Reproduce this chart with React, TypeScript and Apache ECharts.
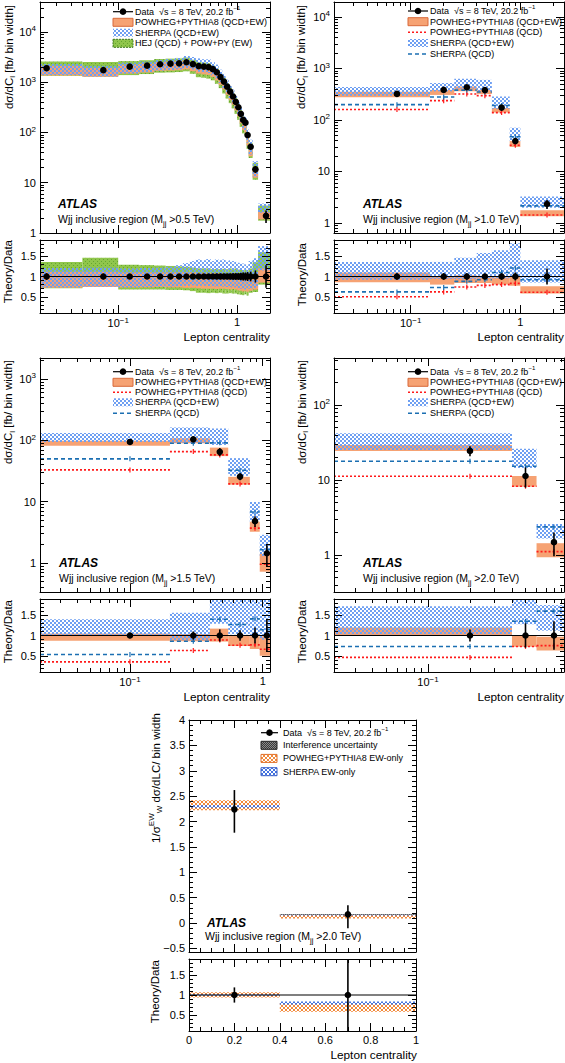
import React, { useEffect, useRef } from "react";
import * as echarts from "echarts";

const FONT = "'Liberation Sans', Arial, Helvetica, sans-serif";

/* ---------- Panel 1: Wjj inclusive, Mjj > 0.5 TeV ---------- */
const p1Edges = [0, 0.05, 0.1, 0.15, 0.2, 0.25, 0.3, 0.35, 0.4, 0.45, 0.5, 0.55, 0.6, 0.65, 0.7, 0.75, 0.8, 0.85, 0.9, 0.95, 1.0, 1.05, 1.1, 1.15, 1.2, 1.25, 1.35, 1.5, 2.0];
const p1Data = [1900, 1740, 2040, 2140, 2280, 2340, 2380, 2500, 2300, 2100, 2050, 2000, 1820, 1580, 1270, 1030, 815, 650, 520, 405, 318, 235, 178, 157, 89, 52, 18.5, 2.2];
const p1Err = [0.08, 0.07, 0.06, 0.06, 0.06, 0.06, 0.06, 0.06, 0.06, 0.06, 0.06, 0.06, 0.06, 0.07, 0.07, 0.07, 0.07, 0.07, 0.08, 0.08, 0.08, 0.09, 0.1, 0.1, 0.11, 0.12, 0.15, 0.28];
const p1PowLo = [0.72, 0.74, 0.73, 0.73, 0.74, 0.73, 0.73, 0.72, 0.72, 0.71, 0.7, 0.7, 0.7, 0.69, 0.7, 0.7, 0.69, 0.68, 0.69, 0.68, 0.66, 0.65, 0.63, 0.64, 0.62, 0.65, 0.68, 0.85];
const p1PowHi = [1.12, 1.12, 1.1, 1.1, 1.1, 1.1, 1.1, 1.1, 1.1, 1.09, 1.09, 1.08, 1.08, 1.08, 1.08, 1.07, 1.07, 1.07, 1.08, 1.07, 1.06, 1.06, 1.05, 1.05, 1.04, 1.05, 1.05, 1.2];
const p1SheLo = [0.73, 0.75, 0.73, 0.74, 0.75, 0.75, 0.76, 0.77, 0.78, 0.77, 0.77, 0.76, 0.76, 0.75, 0.76, 0.75, 0.74, 0.74, 0.73, 0.73, 0.71, 0.7, 0.7, 0.68, 0.7, 0.7, 0.72, 1.15];
const p1SheHi = [1.21, 1.22, 1.2, 1.21, 1.22, 1.24, 1.28, 1.33, 1.38, 1.42, 1.4, 1.43, 1.38, 1.42, 1.4, 1.42, 1.38, 1.4, 1.38, 1.36, 1.34, 1.33, 1.32, 1.3, 1.3, 1.38, 1.45, 1.75];
const p1HejLo = [0.71, 0.75, 0.68, 0.68, 0.68, 0.67, 0.67, 0.66, 0.64, 0.6, 0.6, 0.59, 0.6, 0.59, 0.6, 0.58, 0.58, 0.59, 0.58, 0.58, 0.56, 0.55, 0.54, 0.56, 0.53, 0.6, 0.62, 0.8];
const p1HejHi = [1.36, 1.46, 1.29, 1.28, 1.27, 1.26, 1.25, 1.24, 1.22, 1.2, 1.2, 1.2, 1.18, 1.19, 1.18, 1.19, 1.18, 1.2, 1.18, 1.2, 1.17, 1.18, 1.16, 1.17, 1.15, 1.2, 1.35, 1.6];

/* ---------- Panel 2: Mjj > 1.0 TeV ---------- */
const p2Edges = [0, 0.15, 0.25, 0.4, 0.55, 0.8, 1.0, 2.5];
const p2Data = [320, 383, 432, 380, 174, 39, 2.34];
const p2Err = [0.08, 0.08, 0.08, 0.07, 0.08, 0.1, 0.2];
const p2PowLo = [0.86, 0.8, 0.84, 0.84, 0.8, 0.77, 0.58];
const p2PowHi = [1.1, 1.0, 1.03, 1.0, 0.98, 1.0, 0.76];
const p2SheLo = [0.92, 0.94, 0.93, 0.95, 0.95, 1.0, 0.85];
const p2SheHi = [1.36, 1.36, 1.46, 1.58, 1.65, 1.82, 1.4];
const p2PowQcd = [0.5, 0.62, 0.74, 0.78, 0.8, 0.83, 0.61];
const p2SheQcd = [0.62, 0.73, 0.88, 0.92, 1.1, 1.21, 0.92];

/* ---------- Panel 3: Mjj > 1.5 TeV ---------- */
const p3Edges = [0, 0.2, 0.4, 0.55, 0.8, 0.95, 1.2];
const p3Data = [94, 104, 65, 25.6, 4.8, 1.44];
const p3Err = [0.07, 0.1, 0.15, 0.13, 0.2, 0.4];
const p3PowLo = [0.87, 0.86, 0.85, 0.74, 0.67, 0.5];
const p3PowHi = [1.05, 1.04, 1.17, 0.99, 0.98, 0.98];
const p3SheLo = [1.0, 0.88, 1.29, 1.03, 0.97, 0.9];
const p3SheHi = [1.4, 1.56, 2.4, 2.0, 2.05, 2.0];
const p3PowQcd = [0.35, 0.63, 0.89, 0.76, 0.77, 0.66];
const p3SheQcd = [0.53, 0.86, 1.4, 1.27, 1.41, 1.14];

/* ---------- Panel 4: Mjj > 2.0 TeV ---------- */
const p4Edges = [0, 0.4, 0.6, 1.0];
const p4Data = [24.4, 11.3, 1.48];
const p4Err = [0.15, 0.3, 0.35];
const p4PowLo = [1.0, 0.72, 0.63];
const p4PowHi = [1.2, 1.0, 0.97];
const p4SheLo = [1.03, 1.28, 1.12];
const p4SheHi = [1.72, 2.3, 1.75];
const p4PowQcd = [0.46, 0.73, 0.75];
const p4SheQcd = [0.73, 1.35, 1.6];

/* ---------- Panel 5: normalised EW-only, Mjj > 2.0 TeV ---------- */
const p5Edges = [0, 0.4, 1.0];
const p5Data = [2.24, 0.17];
const p5ErrUp = [0.38, 0.18];
const p5ErrDn = [0.46, 0.27];
const p5PowLo = [2.22, 0.09];
const p5PowHi = [2.42, 0.16];
const p5SheLo = [2.27, 0.15];
const p5SheHi = [2.32, 0.17];
const p5IntLo = [2.3, 0.165];
const p5IntHi = [2.3, 0.18];
const p5RatioErr = [0.19, 1.2];
const p5PowRLo = [0.94, 0.58];
const p5PowRHi = [1.07, 0.82];
const p5SheRLo = [0.98, 0.76];
const p5SheRHi = [1.02, 0.84];

/* ---------- tick labels ---------- */
const yLabels1 = [1, 10, 100, 1000, 10000];
const yLabels3 = [1, 10, 100, 1000];
const yLabels4 = [1, 10, 100];
const xLogLabels = [0.1, 1];
const xLogLabels4 = [0.1];
const ratioLabels = [0.5, 1, 1.5];
const linXLabels = [0, 0.2, 0.4, 0.6, 0.8, 1];
const linYLabels = [-0.5, 0, 0.5, 1, 1.5, 2, 2.5, 3, 3.5, 4];

/* ---------- colours ---------- */
const ORANGE = "#f6a273";
const ORANGE_EDGE = "#d8693a";
const RED = "#ff1a1a";
const BLUE_DASH = "#1b6fb2";

const mid = (e: number[], i: number) => (e[i] + e[i + 1]) / 2;
const centers = (e: number[]) => e.slice(0, -1).map((_, i) => mid(e, i));
const ones = (n: number) => new Array(n).fill(1);
const mul = (a: number[], b: number[]) => a.map((v, i) => v * b[i]);
const EMPTY = { type: "group", children: [] };

function clipRect(xa: number, ya: number, xb: number, yb: number, cs: any) {
  const l = Math.max(Math.min(xa, xb), cs.x);
  const r = Math.min(Math.max(xa, xb), cs.x + cs.width);
  const t = Math.max(Math.min(ya, yb), cs.y);
  const b = Math.min(Math.max(ya, yb), cs.y + cs.height);
  return r > l && b > t ? { x: l, y: t, width: r - l, height: b - t } : null;
}

function bandSeries(g: number, xmin: number, edges: number[], lo: number[], hi: number[], scale: number[] | null, fill: any) {
  return {
    type: "custom", xAxisIndex: g * 4, yAxisIndex: g * 4, silent: true, z: 2,
    data: lo.map((v, i) => [mid(edges, i), v * (scale ? scale[i] : 1)]),
    renderItem: (params: any, api: any) => {
      const i = params.dataIndex;
      const s = scale ? scale[i] : 1;
      const a = api.coord([Math.max(edges[i], xmin), lo[i] * s]);
      const b = api.coord([edges[i + 1], hi[i] * s]);
      const r = clipRect(a[0], a[1], b[0], b[1], params.coordSys);
      if (!r) return EMPTY;
      return { type: "rect", shape: r, style: { fill } };
    },
  };
}

function stepSeries(g: number, xmin: number, edges: number[], vals: number[], scale: number[] | null, color: string, dash: number[]) {
  return {
    type: "custom", xAxisIndex: g * 4, yAxisIndex: g * 4, silent: true, z: 3,
    data: vals.map((v, i) => [mid(edges, i), v * (scale ? scale[i] : 1)]),
    renderItem: (params: any, api: any) => {
      const i = params.dataIndex;
      const cs = params.coordSys;
      const v = vals[i] * (scale ? scale[i] : 1);
      const a = api.coord([Math.max(edges[i], xmin), v]);
      const b = api.coord([edges[i + 1], v]);
      const c = api.coord([mid(edges, i), v]);
      if (a[1] < cs.y || a[1] > cs.y + cs.height) return EMPTY;
      const x1 = Math.max(a[0], cs.x);
      const x2 = Math.min(b[0], cs.x + cs.width);
      return {
        type: "group",
        children: [
          { type: "line", shape: { x1, y1: a[1], x2, y2: a[1] }, style: { stroke: color, lineWidth: 1.6, lineDash: dash } },
          { type: "line", shape: { x1: c[0], y1: a[1] - 2.5, x2: c[0], y2: a[1] + 2.5 }, style: { stroke: color, lineWidth: 1.2 } },
        ],
      };
    },
  };
}

function pointSeries(g: number, logY: boolean, xs: number[], vals: number[], up: number[], dn: number[]) {
  return {
    type: "custom", xAxisIndex: g * 4, yAxisIndex: g * 4, silent: true, z: 5,
    data: vals.map((v, i) => [xs[i], v]),
    renderItem: (params: any, api: any) => {
      const i = params.dataIndex;
      const cs = params.coordSys;
      const c = api.coord([xs[i], vals[i]]);
      const top = api.coord([xs[i], vals[i] + up[i]])[1];
      const lowV = vals[i] - dn[i];
      const bot = logY && lowV <= 0 ? cs.y + cs.height : api.coord([xs[i], lowV])[1];
      const cl = (y: number) => Math.min(Math.max(y, cs.y), cs.y + cs.height);
      return {
        type: "group",
        children: [
          { type: "line", shape: { x1: c[0], y1: cl(top), x2: c[0], y2: cl(bot) }, style: { stroke: "#000", lineWidth: 1.6 } },
          { type: "circle", shape: { cx: c[0], cy: c[1], r: 3.3 }, style: { fill: "#000" } },
        ],
      };
    },
  };
}

function refLine(g: number, xAny: number) {
  return {
    type: "custom", xAxisIndex: g * 4, yAxisIndex: g * 4, silent: true, z: 4,
    data: [[xAny, 1]],
    renderItem: (params: any, api: any) => {
      const cs = params.coordSys;
      const y = api.coord([xAny, 1])[1];
      return { type: "line", shape: { x1: cs.x, y1: y, x2: cs.x + cs.width, y2: y }, style: { stroke: "#000", lineWidth: 1.2 } };
    },
  };
}

/* ---------- axes ---------- */
function logMajors(min: number, max: number) {
  const out: number[] = [];
  for (let e = -3; e <= 6; e++) { const v = Math.pow(10, e); if (v >= min * 0.9999 && v <= max * 1.0001) out.push(v); }
  return out;
}
function logMinors(min: number, max: number) {
  const out: number[] = [];
  for (let e = -3; e <= 6; e++) for (let m = 2; m <= 9; m++) { const v = +(m * Math.pow(10, e)).toPrecision(6); if (v >= min && v <= max) out.push(v); }
  return out;
}
function linTicks(min: number, max: number, step: number) {
  const out: number[] = [];
  for (let k = Math.ceil(min / step - 1e-9); k * step <= max + 1e-9; k++) out.push(+(k * step).toFixed(4));
  return out;
}

const logFmt = (v: number) => {
  const e = Math.round(Math.log10(v));
  if (e === 0) return "1";
  if (e === 1) return "10";
  return `{n|10}{s|${e < 0 ? "−" : ""}${Math.abs(e)}}`;
};
const linFmt = (v: number) => (v < 0 ? "−" + Math.abs(v) : String(v));

const AXIS_RICH = {
  n: { fontSize: 11, lineHeight: 14, fontFamily: FONT, color: "#000" },
  s: { fontSize: 8, lineHeight: 8, fontFamily: FONT, color: "#000", verticalAlign: "top" },
};

type Spec = { type: "log" | "value"; min: number; max: number; major: number[]; minor: number[]; labels: number[] | null; fmt: (v: number) => string };

function logSpec(min: number, max: number, labels: number[] | null): Spec {
  return { type: "log", min, max, major: logMajors(min, max), minor: logMinors(min, max), labels, fmt: logFmt };
}
function linSpec(min: number, max: number, step: number, mstep: number, labels: number[] | null): Spec {
  return { type: "value", min, max, major: linTicks(min, max, step), minor: linTicks(min, max, mstep), labels, fmt: linFmt };
}

function buildAxes(g: number, spec: Spec, dim: "x" | "y") {
  const positions = dim === "x" ? ["bottom", "top"] : ["left", "right"];
  const out: any[] = [];
  positions.forEach((pos, pi) => {
    [true, false].forEach((isMajor) => {
      const showLabel = isMajor && pi === 0 && !!spec.labels;
      const ax: any = {
        gridIndex: g, type: spec.type, min: spec.min, max: spec.max, position: pos, z: 10,
        axisLine: { show: isMajor, onZero: false, lineStyle: { color: "#000", width: 1 } },
        axisTick: { show: true, inside: true, length: isMajor ? 8 : 4, customValues: isMajor ? spec.major : spec.minor, lineStyle: { color: "#000", width: 1 } },
        axisLabel: showLabel
          ? { show: true, customValues: spec.labels, formatter: spec.fmt, color: "#000", fontFamily: FONT, fontSize: 11, margin: dim === "x" ? 3 : 4, rich: AXIS_RICH }
          : { show: false },
        splitLine: { show: false },
        minorTick: { show: false },
      };
      if (spec.type === "log") ax.logBase = 10;
      out.push(ax);
    });
  });
  return out;
}

/* ---------- graphic helpers ---------- */
const richFor = (base: number) => ({
  t: { fontSize: base, fontFamily: FONT, fill: "#000", lineHeight: base + 5 },
  p: { fontSize: Math.round(base * 0.72), fontFamily: FONT, fill: "#000", lineHeight: Math.round(base * 0.72), verticalAlign: "top" },
  b: { fontSize: Math.round(base * 0.72), fontFamily: FONT, fill: "#000", lineHeight: Math.round(base * 0.72), verticalAlign: "bottom" },
});

function T(x: number, y: number, text: string, o: any = {}) {
  return {
    type: "text", x, y, rotation: o.rot || 0, silent: true, z: 100,
    style: {
      text, fill: "#000", fontFamily: FONT, fontSize: o.size || 11,
      fontWeight: o.weight || "normal", fontStyle: o.fstyle || "normal",
      align: o.align || "left", verticalAlign: o.valign || "middle",
      rich: o.rich || richFor(o.size || 11),
    },
  };
}

function legendData(x0: number, y: number, w: number, gap: number, size: number) {
  return [
    { type: "line", silent: true, z: 100, shape: { x1: x0, y1: y, x2: x0 + w, y2: y }, style: { stroke: "#000", lineWidth: 1.2 } },
    { type: "circle", silent: true, z: 100, shape: { cx: x0 + w / 2, cy: y, r: 3.3 }, style: { fill: "#000" } },
    T(x0 + w + gap, y, "{t|Data  √s = 8 TeV, 20.2 fb}{p|−1}", { size, rich: richFor(size) }),
  ];
}
function legendBox(x0: number, y: number, w: number, h: number, gap: number, size: number, fill: any, stroke: string | null, dash: number[] | null, label: string) {
  return [
    { type: "rect", silent: true, z: 100, shape: { x: x0, y: y - h / 2, width: w, height: h }, style: { fill, stroke: stroke || null, lineWidth: stroke ? 1 : 0, lineDash: dash || null } },
    T(x0 + w + gap, y, label, { size }),
  ];
}
function legendLine(x0: number, y: number, w: number, gap: number, size: number, color: string, dash: number[], label: string) {
  return [
    { type: "line", silent: true, z: 100, shape: { x1: x0, y1: y, x2: x0 + w, y2: y }, style: { stroke: color, lineWidth: 1.6, lineDash: dash } },
    T(x0 + w + gap, y, label, { size }),
  ];
}

function pat(size: number, draw: (g: CanvasRenderingContext2D) => void) {
  const c = document.createElement("canvas");
  c.width = size; c.height = size;
  const g = c.getContext("2d")!;
  draw(g);
  return { image: c.toDataURL(), repeat: "repeat", imageWidth: size, imageHeight: size };
}

function buildOption() {
  const checker = pat(4, (g) => { g.fillStyle = "#6e9ff2"; g.fillRect(0, 0, 2, 2); g.fillRect(2, 2, 2, 2); });
  const green = pat(4, (g) => { g.fillStyle = "#90c64c"; g.fillRect(0, 0, 4, 4); g.fillStyle = "#66a530"; g.fillRect(1, 1, 1, 1); g.fillRect(3, 3, 1, 1); });
  const hatch = (col: string) => pat(4, (g) => { g.fillStyle = col; for (let i = 0; i < 4; i++) { g.fillRect(i, i, 1, 1); g.fillRect(i, 3 - i, 1, 1); } });
  const oHatch = hatch("#f28a3c");
  const bHatch = hatch("#4272e0");
  const grey = pat(2, (g) => { g.fillStyle = "#3a3a3a"; g.fillRect(0, 0, 2, 2); g.fillStyle = "#8a8a8a"; g.fillRect(0, 0, 1, 1); g.fillRect(1, 1, 1, 1); });

  const grids = [
    [40, 2, 230, 231], [40, 240, 230, 73],
    [334, 2, 230, 231], [334, 240, 230, 73],
    [40, 358, 230, 234], [40, 599, 230, 73],
    [334, 358, 230, 234], [334, 599, 230, 73],
    [189, 720, 227, 232], [189, 959, 227, 72],
  ];
  const X1 = [0.022, 1.89], X2 = [0.02, 2.5], X3 = [0.021, 1.135], X4 = [0.0212, 0.944];
  const ratioY = () => linSpec(0.1, 1.9, 0.5, 0.1, ratioLabels);
  const xSpecs: Spec[] = [
    logSpec(X1[0], X1[1], null), logSpec(X1[0], X1[1], xLogLabels),
    logSpec(X2[0], X2[1], null), logSpec(X2[0], X2[1], xLogLabels),
    logSpec(X3[0], X3[1], null), logSpec(X3[0], X3[1], xLogLabels),
    logSpec(X4[0], X4[1], null), logSpec(X4[0], X4[1], xLogLabels4),
    linSpec(0, 1, 0.2, 0.05, null), linSpec(0, 1, 0.2, 0.05, linXLabels),
  ];
  const ySpecs: Spec[] = [
    logSpec(1, 39500, yLabels1), ratioY(),
    logSpec(0.64, 19500, yLabels1), ratioY(),
    logSpec(0.336, 2200, yLabels3), ratioY(),
    logSpec(0.321, 423, yLabels4), ratioY(),
    linSpec(-0.57, 4, 0.5, 0.1, linYLabels), ratioY(),
  ];
  const xAxis: any[] = [], yAxis: any[] = [];
  xSpecs.forEach((s, g) => xAxis.push(...buildAxes(g, s, "x")));
  ySpecs.forEach((s, g) => yAxis.push(...buildAxes(g, s, "y")));

  const series: any[] = [];
  // Panel 1
  const c1 = centers(p1Edges);
  const e1 = mul(p1Err, p1Data);
  series.push(bandSeries(0, X1[0], p1Edges, p1HejLo, p1HejHi, p1Data, green));
  series.push(bandSeries(0, X1[0], p1Edges, p1PowLo, p1PowHi, p1Data, ORANGE));
  series.push(bandSeries(0, X1[0], p1Edges, p1SheLo, p1SheHi, p1Data, checker));
  series.push(pointSeries(0, true, c1, p1Data, e1, e1));
  series.push(bandSeries(1, X1[0], p1Edges, p1HejLo, p1HejHi, null, green));
  series.push(bandSeries(1, X1[0], p1Edges, p1PowLo, p1PowHi, null, ORANGE));
  series.push(bandSeries(1, X1[0], p1Edges, p1SheLo, p1SheHi, null, checker));
  series.push(refLine(1, c1[0]));
  series.push(pointSeries(1, false, c1, ones(c1.length), p1Err, p1Err));

  // Panels 2-4
  const qcdPanels = [
    { g: 2, xmin: X2[0], e: p2Edges, d: p2Data, err: p2Err, pl: p2PowLo, ph: p2PowHi, sl: p2SheLo, sh: p2SheHi, pq: p2PowQcd, sq: p2SheQcd },
    { g: 4, xmin: X3[0], e: p3Edges, d: p3Data, err: p3Err, pl: p3PowLo, ph: p3PowHi, sl: p3SheLo, sh: p3SheHi, pq: p3PowQcd, sq: p3SheQcd },
    { g: 6, xmin: X4[0], e: p4Edges, d: p4Data, err: p4Err, pl: p4PowLo, ph: p4PowHi, sl: p4SheLo, sh: p4SheHi, pq: p4PowQcd, sq: p4SheQcd },
  ];
  qcdPanels.forEach((p) => {
    const cc = centers(p.e);
    const ea = mul(p.err, p.d);
    series.push(bandSeries(p.g, p.xmin, p.e, p.pl, p.ph, p.d, ORANGE));
    series.push(bandSeries(p.g, p.xmin, p.e, p.sl, p.sh, p.d, checker));
    series.push(stepSeries(p.g, p.xmin, p.e, p.pq, p.d, RED, [2, 2]));
    series.push(stepSeries(p.g, p.xmin, p.e, p.sq, p.d, BLUE_DASH, [4, 3]));
    series.push(pointSeries(p.g, true, cc, p.d, ea, ea));
    const r = p.g + 1;
    series.push(bandSeries(r, p.xmin, p.e, p.pl, p.ph, null, ORANGE));
    series.push(bandSeries(r, p.xmin, p.e, p.sl, p.sh, null, checker));
    series.push(refLine(r, cc[0]));
    series.push(stepSeries(r, p.xmin, p.e, p.pq, null, RED, [2, 2]));
    series.push(stepSeries(r, p.xmin, p.e, p.sq, null, BLUE_DASH, [4, 3]));
    series.push(pointSeries(r, false, cc, ones(cc.length), p.err, p.err));
  });

  // Panel 5
  const c5 = centers(p5Edges);
  series.push(bandSeries(8, 0, p5Edges, p5PowLo, p5PowHi, null, oHatch));
  series.push(bandSeries(8, 0, p5Edges, p5SheLo, p5SheHi, null, bHatch));
  series.push(bandSeries(8, 0, p5Edges, p5IntLo, p5IntHi, null, grey));
  series.push(pointSeries(8, false, c5, p5Data, p5ErrUp, p5ErrDn));
  series.push(bandSeries(9, 0, p5Edges, p5PowRLo, p5PowRHi, null, oHatch));
  series.push(bandSeries(9, 0, p5Edges, p5SheRLo, p5SheRHi, null, bHatch));
  series.push(refLine(9, c5[0]));
  series.push(pointSeries(9, false, c5, ones(c5.length), p5RatioErr, p5RatioErr));

  /* ---------- texts & legends ---------- */
  const yTitle = "{t|dσ/dC}{b|l}{t| [fb/ bin width]}";
  const wjj = (m: string) => `{t|Wjj inclusive region (M}{b|jj}{t| >${m} TeV)}`;
  const wjjRich = {
    t: { fontSize: 10.5, fontFamily: FONT, fill: "#000", lineHeight: 17 },
    b: { fontSize: 7.5, fontFamily: FONT, fill: "#000", lineHeight: 8, verticalAlign: "bottom" },
  };
  const el: any[] = [];
  const yt = (x: number, y: number, text: string) => el.push(T(x, y, text, { rot: Math.PI / 2, align: "right", size: 11.5 }));
  yt(8.5, 5, yTitle); yt(7.5, 240, "{t|Theory/Data}");
  yt(301, 5, yTitle); yt(301.5, 243, "{t|Theory/Data}");
  yt(8, 360, yTitle); yt(8, 600, "{t|Theory/Data}");
  yt(301.5, 360, yTitle); yt(301.5, 600, "{t|Theory/Data}");
  yt(155.5, 713, "{t|1/σ}{p|EW}{b|W}{t| dσ/dLC/ bin width}"); yt(154.5, 960, "{t|Theory/Data}");
  const xt = (x: number, y: number) => el.push(T(x, y, "{t|Lepton centrality}", { align: "right", size: 11.8 }));
  xt(270, 337); xt(564, 337); xt(270, 697); xt(564, 697); xt(417, 1055);

  const atlas = (x: number, y: number, m: string) => {
    el.push(T(x, y, "ATLAS", { size: 12, weight: "bold", fstyle: "italic", rich: {} }));
    el.push(T(x, y + 15, wjj(m), { rich: wjjRich }));
  };
  atlas(58, 204, "0.5"); atlas(363, 204, "1.0"); atlas(59, 563, "1.5"); atlas(363, 563, "2.0");
  el.push(T(207, 923, "ATLAS", { size: 12, weight: "bold", fstyle: "italic", rich: {} }));
  el.push(T(205, 936, wjj("2.0"), { rich: wjjRich }));

  const L = (items: any[]) => items.forEach((a) => el.push(a));
  const LS = 9;
  const powLabel = "{t|POWHEG+PYTHIA8 (QCD+EW)}";
  L(legendData(113, 11.7, 20, 2, LS));
  L(legendBox(113, 22.3, 20, 8, 2, LS, ORANGE, ORANGE_EDGE, null, powLabel));
  L(legendBox(113, 32.7, 20, 8, 2, LS, checker, null, null, "{t|SHERPA (QCD+EW)}"));
  L(legendBox(113, 43.3, 20, 8, 2, LS, green, "#3d7a1c", [2, 1], "{t|HEJ (QCD) + POW+PY (EW)}"));
  const qcdLegend = (x0: number, ys: number[]) => {
    L(legendData(x0, ys[0], 20, 2, LS));
    L(legendBox(x0, ys[1], 20, 8, 2, LS, ORANGE, ORANGE_EDGE, null, powLabel));
    L(legendLine(x0, ys[2], 20, 2, LS, RED, [2, 2], "{t|POWHEG+PYTHIA8 (QCD)}"));
    L(legendBox(x0, ys[3], 20, 8, 2, LS, checker, null, null, "{t|SHERPA (QCD+EW)}"));
    L(legendLine(x0, ys[4], 20, 2, LS, BLUE_DASH, [4, 3], "{t|SHERPA (QCD)}"));
  };
  qcdLegend(408, [11, 21.7, 32.3, 43, 54]);
  qcdLegend(113, [371.7, 382.3, 392.3, 402.3, 413.3]);
  qcdLegend(408, [371.7, 382.3, 392.3, 402.3, 413.3]);
  L(legendData(261, 732.7, 17, 5, LS));
  L(legendBox(261, 745.3, 16, 8, 6, LS, grey, "#222", null, "{t|Interference uncertainty}"));
  L(legendBox(261, 758.4, 16, 8, 6, LS, oHatch, "#e0702a", null, "{t|POWHEG+PYTHIA8 EW-only}"));
  L(legendBox(261, 771.7, 16, 8, 6, LS, bHatch, "#3a60c8", null, "{t|SHERPA EW-only}"));

  return {
    animation: false,
    backgroundColor: "#ffffff",
    grid: grids.map((q) => ({ left: q[0], top: q[1], width: q[2], height: q[3], containLabel: false, show: false })),
    xAxis,
    yAxis,
    series,
    graphic: { elements: el },
  };
}

export default function App() {
  const ref = useRef<HTMLDivElement>(null);
  useEffect(() => {
    document.body.style.margin = "0";
    const chart = echarts.init(ref.current!, null, { renderer: "svg", width: 565, height: 1063 });
    chart.setOption(buildOption() as any);
    return () => chart.dispose();
  }, []);
  return <div ref={ref} style={{ width: 565, height: 1063, position: "absolute", left: 0, top: 0, background: "#fff" }} />;
}
